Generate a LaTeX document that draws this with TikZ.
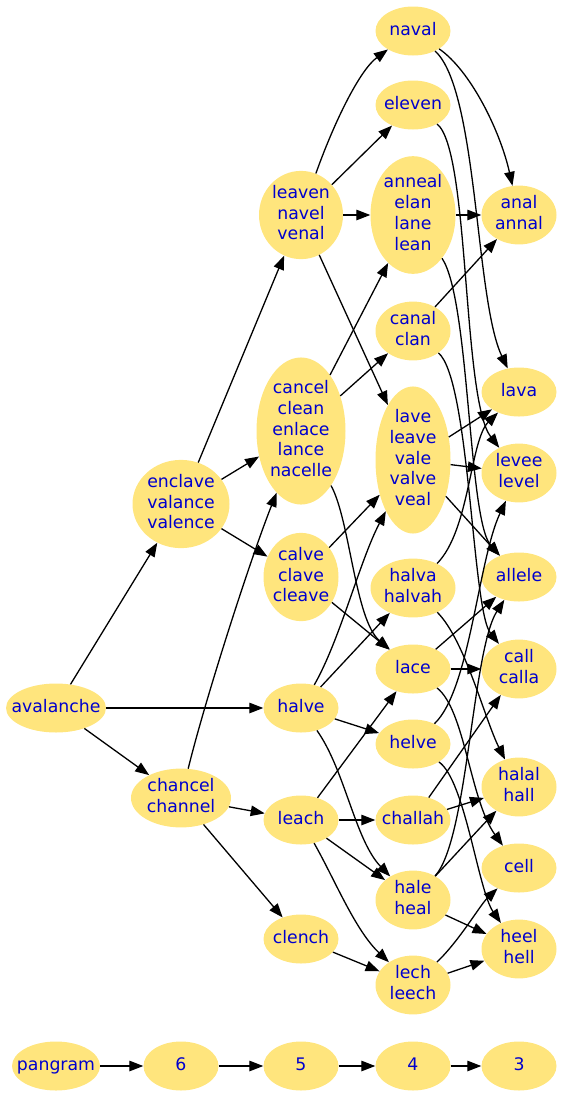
\documentclass[tikz,border=0pt]{standalone}
\usepackage{fontspec}
\setmainfont{DejaVu Sans}
\usepackage{tikz}
\usetikzlibrary{arrows.meta, shapes.geometric}
\definecolor{wordFill}{RGB}{255, 229, 125}
\definecolor{wordBlue}{RGB}{0, 0, 205}
\newcommand{\words}[1]{\makebox[0pt]{\begin{tabular}{@{}c@{}}#1\end{tabular}}}

\begin{document}
\begin{tikzpicture}[
        x=1pt, y=-1pt,
        font=\fontsize{17.3}{20.8}\selectfont\color{wordBlue},
        wrd/.style={ellipse, fill=wordFill, inner sep=0pt, minimum width=75pt,
            minimum height=49pt},
        arr/.style={-{Triangle[length=14pt, width=10.5pt]}, line width=1.3pt, black}
    ]
    \useasboundingbox (0,0) rectangle (562,1096);

    \node[wrd, minimum width=100pt] (avalanche) at (56,708) {\words{avalanche}};

    \node[wrd, minimum width=97pt]  (enclave) at (181,504) {\words{enclave\\valance\\valence}};
    \node[wrd, minimum width=100pt] (chancel) at (181,798) {\words{chancel\\channel}};

    \node[wrd, minimum width=84pt] (leaven) at (301,215) {\words{leaven\\navel\\venal}};
    \node[wrd, minimum width=89pt] (cancel) at (301,431) {\words{cancel\\clean\\enlace\\lance\\nacelle}};
    \node[wrd] (calve)  at (301,577) {\words{calve\\clave\\cleave}};
    \node[wrd] (halve)  at (301,708) {\words{halve}};
    \node[wrd] (leach)  at (301,820) {\words{leach}};
    \node[wrd] (clench) at (301,939) {\words{clench}};

    \node[wrd] (naval)   at (413,31)  {\words{naval}};
    \node[wrd] (eleven)  at (413,105) {\words{eleven}};
    \node[wrd, minimum width=85pt] (anneal) at (413,215) {\words{anneal\\elan\\lane\\lean}};
    \node[wrd] (canal)   at (413,331) {\words{canal\\clan}};
    \node[wrd] (lave)    at (413,460) {\words{lave\\leave\\vale\\valve\\veal}};
    \node[wrd, minimum width=85pt] (halva) at (413,588) {\words{halva\\halvah}};
    \node[wrd] (lace)    at (413,669) {\words{lace}};
    \node[wrd] (helve)   at (413,744) {\words{helve}};
    \node[wrd] (challah) at (413,820) {\words{challah}};
    \node[wrd] (hale)    at (413,900) {\words{hale\\heal}};
    \node[wrd] (lech)    at (413,985) {\words{lech\\leech}};

    \node[wrd] (anal)   at (519,215) {\words{anal\\annal}};
    \node[wrd] (lava)   at (519,392) {\words{lava}};
    \node[wrd] (levee)  at (519,473) {\words{levee\\level}};
    \node[wrd] (allele) at (519,577) {\words{allele}};
    \node[wrd] (call)   at (519,669) {\words{call\\calla}};
    \node[wrd] (halal)  at (519,787) {\words{halal\\hall}};
    \node[wrd] (cell)   at (519,868) {\words{cell}};
    \node[wrd] (heel)   at (519,949) {\words{heel\\hell}};

    % rank legend
    \node[wrd, minimum width=88pt] (pangram) at (56,1066) {\words{pangram}};
    \node[wrd] (six)   at (181,1066) {\words{6}};
    \node[wrd] (five)  at (301,1066) {\words{5}};
    \node[wrd] (four)  at (413,1066) {\words{4}};
    \node[wrd] (three) at (519,1066) {\words{3}};

    \draw[arr] (pangram) -- (six);
    \draw[arr] (six) -- (five);
    \draw[arr] (five) -- (four);
    \draw[arr] (four) -- (three);

    \draw[arr] (avalanche) -- (enclave);
    \draw[arr] (avalanche) -- (halve);
    \draw[arr] (avalanche) -- (chancel);

    \draw[arr] (enclave) -- (leaven);
    \draw[arr] (enclave) -- (cancel);
    \draw[arr] (enclave) -- (calve);
    \draw[arr] (chancel) .. controls (205,700) and (250,560) .. (cancel);
    \draw[arr] (chancel) -- (leach);
    \draw[arr] (chancel) -- (clench);

    \draw[arr] (leaven) .. controls (335,120) and (360,70) .. (naval);
    \draw[arr] (leaven) -- (eleven);
    \draw[arr] (leaven) -- (anneal);
    \draw[arr] (leaven) -- (lave);
    \draw[arr] (cancel) -- (anneal);
    \draw[arr] (cancel) -- (canal);
    \draw[arr] (cancel) .. controls (350,520) and (355,620) .. (lace);
    \draw[arr] (calve) -- (lave);
    \draw[arr] (calve) -- (lace);
    \draw[arr] (halve) .. controls (340,640) and (360,560) .. (lave);
    \draw[arr] (halve) -- (halva);
    \draw[arr] (halve) -- (helve);
    \draw[arr] (halve) .. controls (345,770) and (355,840) .. (hale);
    \draw[arr] (leach) -- (lace);
    \draw[arr] (leach) -- (challah);
    \draw[arr] (leach) -- (hale);
    \draw[arr] (leach) .. controls (335,880) and (355,930) .. (lech);
    \draw[arr] (clench) -- (lech);

    \draw[arr] (naval) .. controls (470,70) and (500,130) .. (anal);
    \draw[arr] (naval) .. controls (478,90) and (475,300) .. (lava);
    \draw[arr] (eleven) .. controls (470,150) and (462,400) .. (levee);
    \draw[arr] (anneal) -- (anal);
    \draw[arr] (anneal) .. controls (470,300) and (468,520) .. (allele);
    \draw[arr] (canal) -- (anal);
    \draw[arr] (canal) .. controls (470,380) and (472,610) .. (call);
    \draw[arr] (lave) -- (lava);
    \draw[arr] (lave) -- (levee);
    \draw[arr] (lave) -- (allele);
    \draw[arr] (halva) .. controls (470,530) and (470,440) .. (lava);
    \draw[arr] (halva) .. controls (465,640) and (485,720) .. (halal);
    \draw[arr] (lace) -- (allele);
    \draw[arr] (lace) -- (call);
    \draw[arr] (lace) .. controls (465,710) and (470,800) .. (cell);
    \draw[arr] (helve) .. controls (470,690) and (478,560) .. (levee);
    \draw[arr] (helve) .. controls (465,780) and (478,890) .. (heel);
    \draw[arr] (challah) -- (call);
    \draw[arr] (challah) -- (halal);
    \draw[arr] (hale) .. controls (468,840) and (472,650) .. (allele);
    \draw[arr] (hale) .. controls (455,855) and (478,830) .. (halal);
    \draw[arr] (hale) -- (heel);
    \draw[arr] (lech) .. controls (460,940) and (480,905) .. (cell);
    \draw[arr] (lech) -- (heel);
\end{tikzpicture}
\end{document}
